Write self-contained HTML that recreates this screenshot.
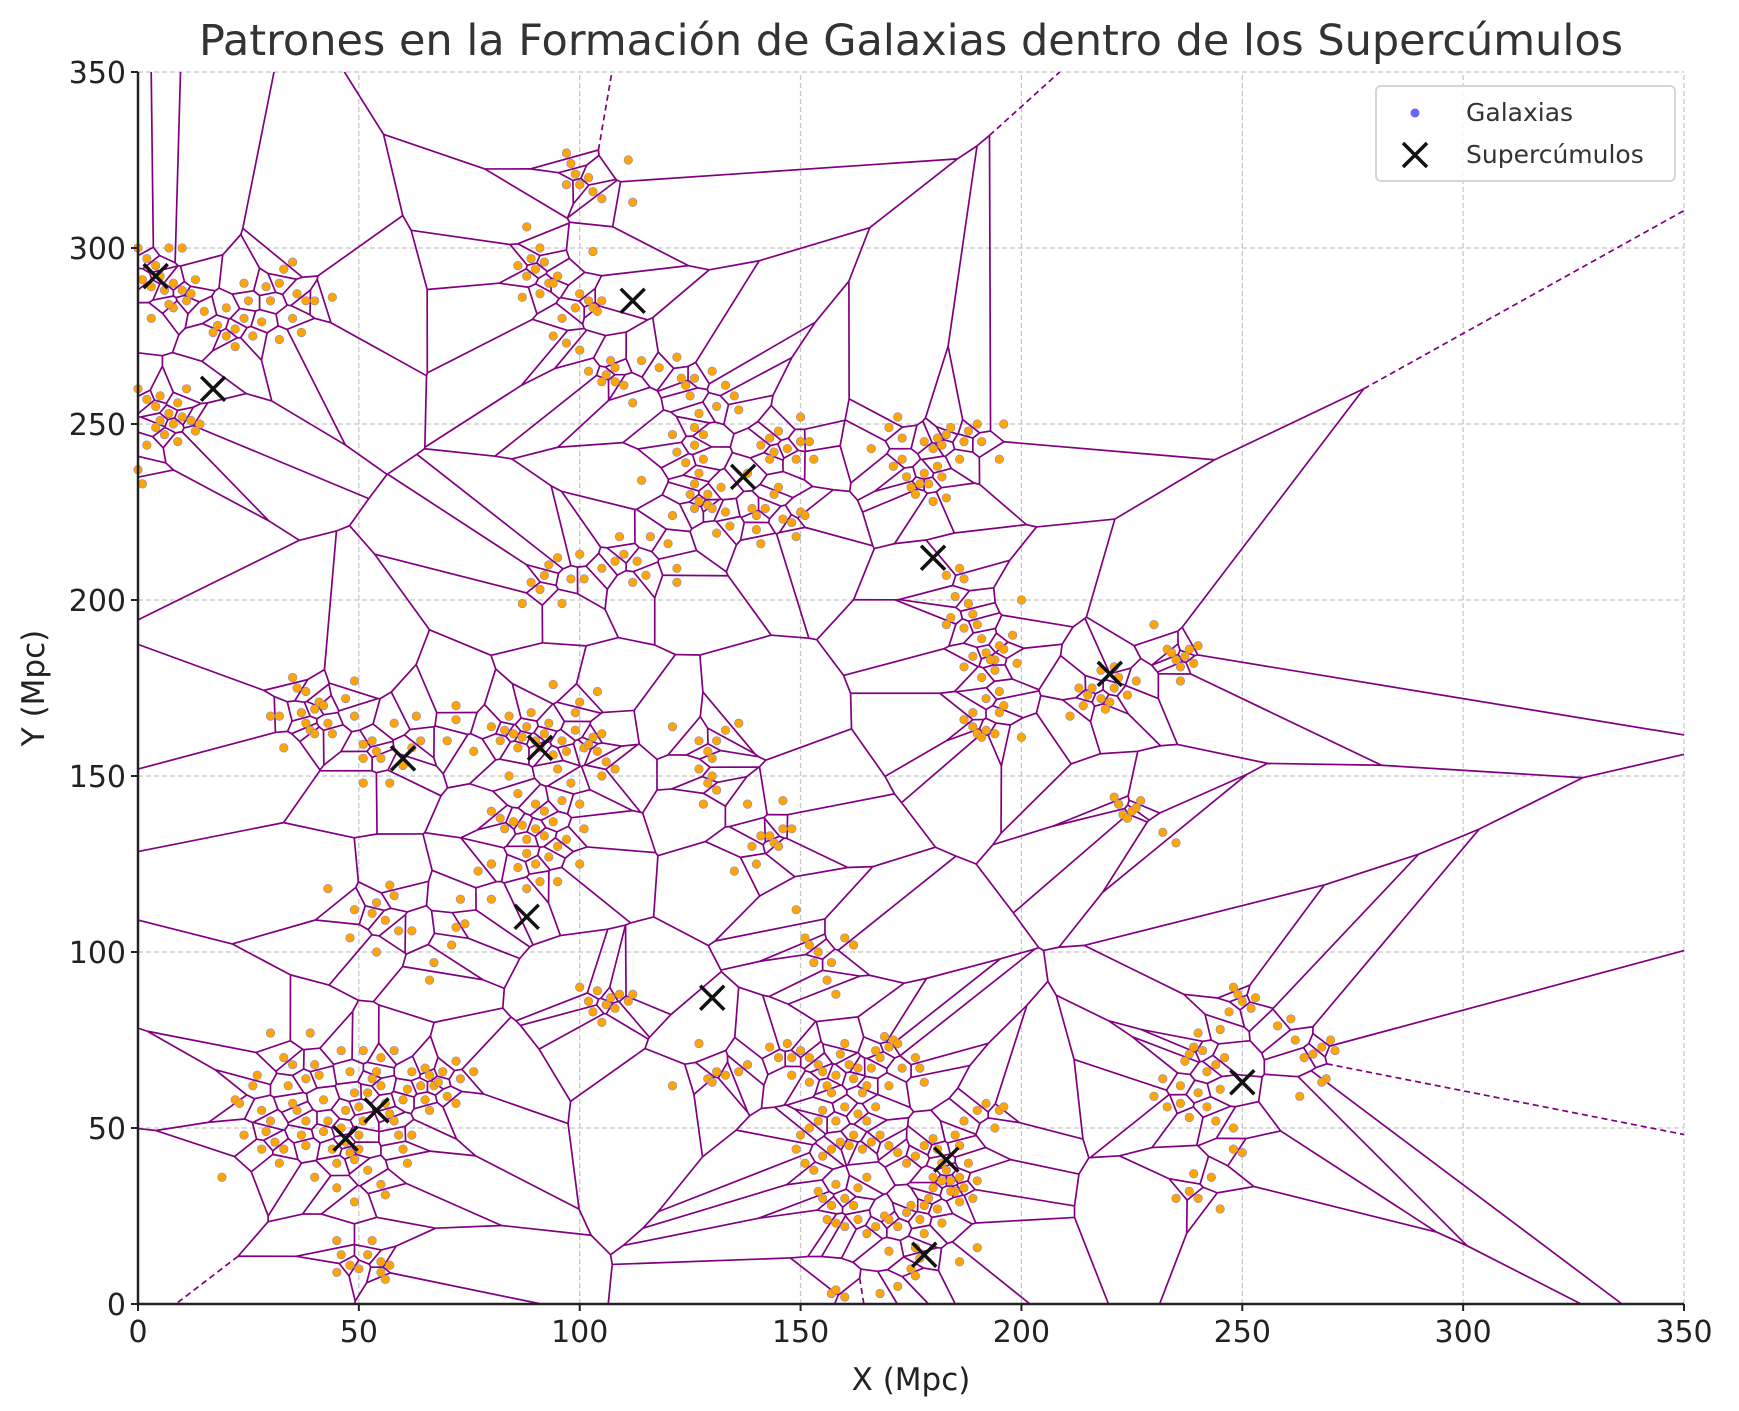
<!DOCTYPE html>
<html><head><meta charset="utf-8"><style>
html,body{margin:0;padding:0;background:#fff;overflow:hidden;width:1739px;height:1411px;}
svg{display:block;font-family:"DejaVu Sans","Liberation Sans",sans-serif;}
</style></head><body>
<svg id="chart" width="1739" height="1411" viewBox="0 0 1739 1411" xmlns="http://www.w3.org/2000/svg">
<rect x="0" y="0" width="1739" height="1411" fill="#fff"/>
<text x="911" y="55" text-anchor="middle" font-size="43" fill="#333">Patrones en la Formación de Galaxias dentro de los Supercúmulos</text>
<g id="grid"></g>
<g id="edges"></g>
<g id="galaxies"></g>
<g id="supers"></g>
<g id="axes"></g>
<text x="911" y="1390" text-anchor="middle" font-size="31" fill="#222">X (Mpc)</text>
<text x="0" y="0" transform="translate(44,688) rotate(-90)" text-anchor="middle" font-size="31" fill="#222">Y (Mpc)</text>
<g>
<rect x="1376" y="86" width="299" height="95" rx="5" fill="#fff" fill-opacity="0.85" stroke="#d6d6d6" stroke-width="2"/>
<circle cx="1415" cy="113" r="4.5" fill="#6666ff"/>
<text x="1466" y="121" font-size="25" fill="#333">Galaxias</text>
<path d="M1403,143 L1427,167 M1427,143 L1403,167" stroke="#111" stroke-width="3.5"/>
<text x="1466" y="163" font-size="25" fill="#333">Supercúmulos</text>
</g>
</svg>
<script>
const galaxyX = [0,2,4,1,3,6,8,5,7,10,12,13,3,8,11,15,18,20,22,24,26,20,22,28,30,32,33,35,36,38,40,37,32,35,29,44,17,25,24,7,10,
0,2,4,5,7,9,10,12,8,6,4,2,0,1,9,13,11,14,5,
97,98,99,100,97,102,103,105,111,112,
88,86,88,89,90,91,92,93,91,94,95,87,96,99,100,102,103,105,104,103,94,100,97,
102,105,106,108,110,107,108,112,114,118,122,123,124,125,126,130,133,135,136,131,127,126,128,126,122,121,124,127,128,126,125,127,129,130,126,121,132,133,134,131,129,138,139,140,142,140,141,144,145,143,141,143,144,145,147,149,150,150,152,153,146,148,149,150,151,114,120,113,112,115,116,122,110,122,
87,89,91,92,93,95,96,98,100,101,105,108,109,
166,171,170,172,173,173,174,175,176,177,178,178,180,181,182,183,184,186,187,188,190,191,196,195,182,180,183,179,181,183,186,187,185,188,189,190,187,184,183,191,192,194,195,196,193,191,192,194,195,196,200,198,195,187,189,190,191,192,194,189,187,189,200,199,
211,213,214,215,216,218,219,220,221,222,224,218,221,226,
230,233,235,236,237,238,239,240,234,236,
221,222,223,224,225,226,227,232,235,
30,32,35,36,37,38,39,40,41,42,43,44,40,38,33,47,49,49,51,51,53,54,55,51,57,58,60,62,63,64,70,72,72,76,
80,82,83,84,85,86,87,88,89,90,91,92,93,94,96,97,99,99,100,101,102,103,104,105,106,105,95,94,104,108,98,96,92,90,86,84,80,82,85,87,88,90,92,94,95,93,90,88,86,80,83,88,91,95,100,100,101,97,
121,127,129,130,131,133,136,130,129,131,128,127,135,138,139,140,141,143,144,145,146,148,146,
43,48,49,53,54,56,57,58,54,59,62,66,67,71,72,73,74,80,80,77,
100,102,103,104,105,106,107,108,109,111,112,
121,127,129,130,131,133,136,138,
149,151,152,153,154,157,156,158,162,160,143,145,147,148,148,150,152,152,154,155,156,157,158,159,160,161,163,162,164,165,166,167,168,169,170,171,172,173,170,176,177,178,167,165,163,160,158,155,154,152,150,149,151,153,155,157,159,161,162,164,166,168,170,172,174,176,178,180,181,182,183,184,185,186,187,189,190,188,186,185,187,190,192,194,195,196,165,163,162,160,157,155,154,156,158,160,165,167,169,170,172,174,175,177,178,179,180,181,182,178,176,177,175,176,172,168,157,158,160,163,180,182,184,186,190,186,158,170,
22,23,24,26,27,28,28,29,30,31,32,33,30,33,35,35,34,36,37,38,39,40,41,42,43,44,45,46,47,48,49,50,50,47,46,48,49,50,51,52,53,54,55,56,57,58,59,60,61,62,60,61,62,64,65,66,67,68,69,65,66,70,72,73,76,72,58,55,51,19,49,52,55,56,45,40,38,38,42,45,46,48,50,52,53,55,55,56,57,45,
248,249,250,252,253,247,245,240,239,241,238,237,242,244,246,240,236,233,236,238,242,244,248,250,248,243,239,238,240,235,245,258,261,262,264,266,268,270,271,269,268,263,245,232,230];
const galaxyY = [300,297,295,291,289,288,290,292,300,288,287,291,280,283,285,282,278,283,277,280,275,275,272,279,285,290,294,296,287,285,285,276,274,280,289,286,276,285,290,284,300,
260,257,255,258,253,256,252,251,250,247,249,244,237,233,245,248,260,250,251,
327,324,321,318,318,320,316,314,325,313,
306,295,292,297,294,300,296,290,287,290,292,286,280,283,287,285,283,285,282,299,275,271,273,
265,262,264,262,261,268,266,256,268,266,269,263,261,258,263,265,261,258,254,255,253,249,247,244,242,247,239,236,240,233,230,228,227,226,226,224,232,225,221,219,230,236,226,224,226,220,216,230,232,240,244,246,242,248,243,240,252,245,245,240,223,222,218,225,224,234,216,211,205,207,218,209,213,205,
199,205,203,207,210,212,199,206,213,206,209,211,218,
243,238,249,252,246,240,235,232,230,233,236,245,243,246,244,247,249,240,245,248,250,245,250,240,235,228,229,233,238,207,209,206,201,199,196,193,192,195,193,189,185,183,187,186,183,178,172,180,174,170,200,190,168,166,164,162,161,163,162,168,181,184,161,182,
167,175,170,173,175,172,169,171,175,178,173,180,181,177,
193,186,183,181,184,186,182,187,185,177,
144,142,139,138,140,141,143,134,131,
167,167,178,175,168,165,163,169,171,170,165,162,162,174,158,172,177,167,159,155,160,157,155,148,148,165,153,158,167,160,160,170,166,157,
164,160,163,167,162,158,161,164,168,160,158,162,165,156,160,157,163,168,171,158,159,161,157,162,154,150,152,176,174,152,148,143,140,142,145,150,140,138,137,136,132,135,133,137,130,127,125,128,124,125,135,118,120,120,125,142,135,132,
164,160,157,155,160,163,165,150,148,146,142,152,123,142,130,125,133,133,131,130,135,135,143,
118,104,112,111,114,109,119,116,100,106,106,92,97,102,107,115,108,115,125,123,
90,86,83,89,80,85,87,84,88,86,88,
62,74,64,63,66,65,66,68,
112,104,102,97,100,97,92,88,102,104,73,70,74,70,65,72,70,63,68,66,62,60,65,71,74,68,67,64,60,62,67,72,70,76,73,75,74,67,62,70,67,63,56,52,54,56,52,55,52,50,48,44,40,38,42,44,46,45,48,44,46,48,45,43,40,42,45,47,44,40,38,35,32,36,33,30,35,40,45,48,52,55,57,50,55,56,36,33,28,30,28,30,32,24,23,22,20,22,25,24,22,26,28,24,28,30,33,27,23,20,16,13,10,8,5,3,3,4,2,24,36,35,32,29,16,12,34,15,
58,57,48,62,65,55,44,49,52,46,40,44,77,70,68,57,62,55,48,64,77,68,65,58,52,44,40,50,46,43,41,44,48,55,72,66,60,56,52,60,64,66,62,57,54,52,48,44,40,48,58,61,66,62,67,65,62,63,66,58,55,59,57,64,66,69,72,70,72,36,29,38,34,31,33,36,45,52,49,18,14,11,10,14,18,12,9,7,11,9,
90,88,86,84,87,83,78,77,73,72,71,69,66,68,70,60,62,56,57,53,56,52,50,43,44,36,37,32,30,30,27,79,81,75,70,71,73,75,72,64,63,59,61,64,59];
const superX = [4,17,112,137,180,220,60,91,88,130,47,54,183,178,250];
const superY = [292,260,285,235,212,179,155,158,110,87,47,55,41,14,63];
const xTicks = [0,50,100,150,200,250,300,350];
const yTicks = [0,50,100,150,200,250,300,350];

const X0=138, X1=1684, Y0=1304, Y1=72, XMAX=350, YMAX=350;
function sx(v){return X0+(X1-X0)*v/XMAX;}
function sy(v){return Y0-(Y0-Y1)*v/YMAX;}
const NS="http://www.w3.org/2000/svg";
function mk(tag,attrs,parent){const e=document.createElementNS(NS,tag);for(const k in attrs)e.setAttribute(k,attrs[k]);parent.appendChild(e);return e;}
// clip segment (pixel coords) to plot rect, returns null if outside
function clip(x1,y1,x2,y2){let t0=0,t1=1;const dx=x2-x1,dy=y2-y1;
const p=[-dx,dx,-dy,dy],q=[x1-X0,X1-x1,y1-Y1,Y0-y1];
for(let i=0;i<4;i++){if(p[i]===0){if(q[i]<0)return null;}else{const r=q[i]/p[i];if(p[i]<0){if(r>t1)return null;if(r>t0)t0=r;}else{if(r<t0)return null;if(r<t1)t1=r;}}}
return [x1+t0*dx,y1+t0*dy,x1+t1*dx,y1+t1*dy];}

const grid=document.getElementById('grid');
xTicks.forEach(t=>{const l=mk('line',{x1:sx(t),x2:sx(t),y1:Y0,y2:Y1,stroke:'#c8c8c8','stroke-width':1.3,'stroke-dasharray':'5,3'},grid);

});
yTicks.forEach(t=>{const l=mk('line',{x1:X0,x2:X1,y1:sy(t),y2:sy(t),stroke:'#c8c8c8','stroke-width':1.3,'stroke-dasharray':'5,3'},grid);

});

const pts=[];const seen={};
for(let i=0;i<galaxyX.length;i++){const k=galaxyX[i]+','+galaxyY[i];if(seen[k])continue;seen[k]=1;pts.push([galaxyX[i]+((i*37)%7-3)*0.013,galaxyY[i]+((i*53)%5-2)*0.017]);}
function circ(a,b,c){const ax=a[0],ay=a[1],bx=b[0],by=b[1],cx=c[0],cy=c[1];const d=2*(ax*(by-cy)+bx*(cy-ay)+cx*(ay-by));
const ux=((ax*ax+ay*ay)*(by-cy)+(bx*bx+by*by)*(cy-ay)+(cx*cx+cy*cy)*(ay-by))/d;
const uy=((ax*ax+ay*ay)*(cx-bx)+(bx*bx+by*by)*(ax-cx)+(cx*cx+cy*cy)*(bx-ax))/d;
return [ux,uy,(ax-ux)*(ax-ux)+(ay-uy)*(ay-uy)];}
const n=pts.length;
const all=pts.concat([[-1e5,-1e5],[1e5,-1e5],[175,1e5]]);
let tris=[];
function addTri(a,b,c){const cc=circ(all[a],all[b],all[c]);tris.push({v:[a,b,c],cx:cc[0],cy:cc[1],r:cc[2]});}
addTri(n,n+1,n+2);
for(let i=0;i<n;i++){const p=all[i];const bad=[],keep=[];
for(const t of tris){const dx=p[0]-t.cx,dy=p[1]-t.cy;if(dx*dx+dy*dy<t.r)bad.push(t);else keep.push(t);}
const ec={};for(const t of bad){for(let j=0;j<3;j++){const a=t.v[j],b=t.v[(j+1)%3];const k=a<b?a+'_'+b:b+'_'+a;ec[k]=(ec[k]||0)+1;}}
tris=keep;
for(const k in ec){if(ec[k]===1){const [a,b]=k.split('_').map(Number);addTri(a,b,i);}}}
tris=tris.filter(t=>t.v[0]<n&&t.v[1]<n&&t.v[2]<n);
const emap={};
tris.forEach((t,ti)=>{for(let j=0;j<3;j++){const a=t.v[j],b=t.v[(j+1)%3];const k=a<b?a+'_'+b:b+'_'+a;(emap[k]=emap[k]||[]).push(ti);}});
let mx=0,my=0;pts.forEach(p=>{mx+=p[0];my+=p[1];});mx/=n;my/=n;
const eg=document.getElementById('edges');
for(const k in emap){const l=emap[k];
if(l.length===2){const a=tris[l[0]],b=tris[l[1]];
const c=clip(sx(a.cx),sy(a.cy),sx(b.cx),sy(b.cy));if(!c)continue;
const e=mk('line',{x1:c[0],y1:c[1],x2:c[2],y2:c[3],stroke:'#800080','stroke-width':1.7},eg);

}
else{const t=tris[l[0]];const [i,j]=k.split('_').map(Number);const pi=pts[i],pj=pts[j];
let tx=pj[0]-pi[0],ty=pj[1]-pi[1];const L=Math.hypot(tx,ty);let nx=-ty/L,ny=tx/L;
const midx=(pi[0]+pj[0])/2,midy=(pi[1]+pj[1])/2;
const s=Math.sign((midx-mx)*nx+(midy-my)*ny)||1;nx*=s;ny*=s;
const far=800;
const c=clip(sx(t.cx),sy(t.cy),sx(t.cx+nx*far),sy(t.cy+ny*far));if(!c)continue;
const e=mk('line',{x1:c[0],y1:c[1],x2:c[2],y2:c[3],stroke:'#800080','stroke-width':1.7,'stroke-dasharray':'6,4'},eg);

}}

const gg=document.getElementById('galaxies');
for(let i=0;i<galaxyX.length;i++){const c=mk('circle',{cx:sx(galaxyX[i]),cy:sy(galaxyY[i]),r:4.3,fill:'#ffa500',stroke:'#8888cc','stroke-width':0.6},gg);

}
const sg=document.getElementById('supers');
for(let i=0;i<superX.length;i++){const x=sx(superX[i]),y=sy(superY[i]);
const p=mk('path',{d:`M${x-12},${y-12} L${x+12},${y+12} M${x+12},${y-12} L${x-12},${y+12}`,stroke:'#111','stroke-width':3.5},sg);

}

const ag=document.getElementById('axes');
mk('line',{x1:X0,y1:Y0,x2:X1,y2:Y0,stroke:'#222','stroke-width':2.5},ag);
mk('line',{x1:X0,y1:Y0,x2:X0,y2:Y1,stroke:'#222','stroke-width':2.5},ag);
xTicks.forEach(t=>{mk('line',{x1:sx(t),x2:sx(t),y1:Y0,y2:Y0+7,stroke:'#222','stroke-width':2},ag);
const tx=mk('text',{x:sx(t),y:Y0+38,'text-anchor':'middle','font-size':30,fill:'#222'},ag);tx.textContent=t;

});
yTicks.forEach(t=>{mk('line',{x1:X0-7,x2:X0,y1:sy(t),y2:sy(t),stroke:'#222','stroke-width':2},ag);
const tx=mk('text',{x:X0-12,y:sy(t)+11,'text-anchor':'end','font-size':30,fill:'#222'},ag);tx.textContent=t;

});
</script>
</body></html>
